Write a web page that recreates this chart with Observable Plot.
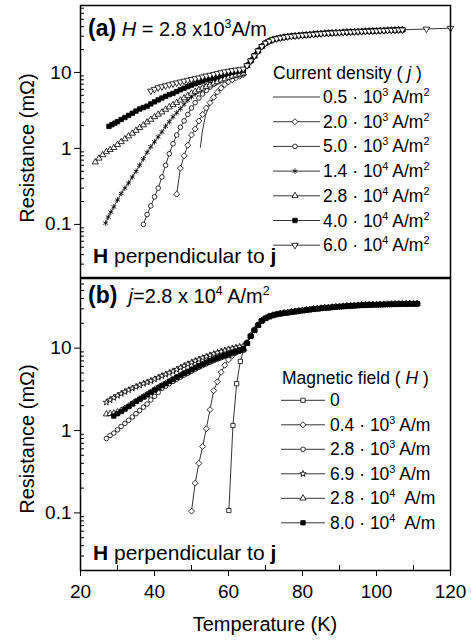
<!DOCTYPE html>
<html>
<head>
<meta charset="utf-8">
<script src="https://cdn.jsdelivr.net/npm/d3@7"></script>
<script src="https://cdn.jsdelivr.net/npm/@observablehq/plot@0.6"></script>
<style>
  body { margin: 0; background: #fff; }
  #chart { width: 471px; height: 641px; background: #fff; }
  #chart svg { display: block; }
</style>
</head>
<body>
<div id="chart"></div>
<script>
// ---------------- DATA ----------------
// Axis ticks
const xTicks = [20, 40, 60, 80, 100, 120];
const xMinorTicks = [30, 50, 70, 90, 110];
const yTicks = [0.1, 1, 10];
const yMinorTicks = [0.02,0.03,0.04,0.05,0.06,0.07,0.08,0.09,0.2,0.3,0.4,0.5,0.6,0.7,0.8,0.9,2,3,4,5,6,7,8,9,20,30,40,50,60,70];

// Panel (a): H = 2.8x10^3 A/m, different current densities
const legendA = ["0.5", "2.0", "5.0", "1.4", "2.8", "4.0", "6.0"];
const legendAExp = ["3", "3", "3", "4", "4", "4", "4"];

const tA1 = [52.4,52.9,53.4,53.8,54.4,55.1,56,56.9,58,59,60,61,62,63,64];
const rA1 = [1.03,1.64,2.2,2.72,3.3,3.87,4.6,5.25,6.1,6.8,7.5,8.1,8.7,9.2,9.7];

const tA2 = [46,47,48,49,50,51,52,53,54,55,56,57,58,59,60,61,62,63,64];
const rA2 = [0.25,0.55,0.8,1.1,1.5,1.8,2.3,2.8,3.4,4.0,4.7,5.5,6.2,6.9,7.5,8.0,8.5,8.9,9.3];

const tA3 = [37,38,39,40,41,42,43,44,45,46,47,48,49,50,51,52,53,54,55,56,57,58,59,60,61,62,63,64];
const rA3 = [0.1,0.135,0.175,0.23,0.3,0.42,0.6,0.85,1.15,1.5,1.9,2.3,2.8,3.4,4.0,4.6,5.2,5.8,6.4,7.0,7.5,7.9,8.4,8.7,8.9,9.1,9.3,9.6];

const tA4 = [26.8,27.5,28.2,29,30,31,32,33,34,35,36,37,38,39,40,41,42,43,44,45,46,47,48,49,50,51,52,53,54,55,56,57,58,59,60,61,62,63,64];
const rA4 = [0.104,0.125,0.145,0.17,0.21,0.255,0.3,0.35,0.42,0.5,0.6,0.73,0.89,1.05,1.22,1.42,1.65,1.95,2.25,2.6,2.95,3.33,3.8,4.3,4.75,5.2,5.7,6.2,6.7,7.2,7.7,8.1,8.5,8.8,9.1,9.3,9.5,9.7,9.9];

const tA5 = [24,25,26,27,28,29,30,31,32,33,34,35,36,37,38,39,40,41,42,43,44,45,46,47,48,49,50,51,52,53,54,55,56,57,58,59,60,61,62,63,64];
const rA5 = [0.66,0.74,0.82,0.9,0.96,1.02,1.12,1.22,1.33,1.45,1.58,1.72,1.87,2.03,2.22,2.4,2.6,2.8,3.0,3.25,3.5,3.75,4.0,4.3,4.6,4.95,5.3,5.6,5.9,6.2,6.5,6.8,7.2,7.5,7.9,8.2,8.6,8.9,9.2,9.5,9.8];

const tA6 = [27.7,28.5,29.3,30,31,32,33,34,35,36,37,38,39,40,41,42,43,44,45,46,47,48,49,50,51,52,53,54,55,56,57,58,59,60,61,62,63,64];
const rA6 = [1.95,2.05,2.15,2.25,2.4,2.55,2.72,2.9,3.1,3.3,3.45,3.6,3.85,4.1,4.35,4.6,4.85,5.1,5.3,5.6,5.9,6.2,6.5,6.8,7.1,7.4,7.7,8.0,8.3,8.6,8.9,9.2,9.5,9.8,10.0,10.2,10.4,10.6];

const tA7 = [39,40,41,42,43,44,45,46,47,48,49,50,51,52,53,54,55,56,57,58,59,60,61,62,63,64];
const rA7 = [5.7,6.0,6.3,6.5,6.7,6.9,7.1,7.3,7.5,7.7,7.9,8.1,8.3,8.5,8.75,9.0,9.2,9.45,9.7,9.95,10.2,10.4,10.6,10.75,10.9,11.1];
const tA7tail = [113.5, 120];
const rA7tail = [37.3, 38.2];

// common normal-state branch, panel (a)
const tHighA = [65,66,67,68,69,70,71,72,73,74,75,76,77,78,79,80,81,82,83,84,85,86,87,88,89,90,91,92,93,94,95,96,97,98,99,100,101,102,103,104,105,106,107];
const rHighA = [12.3,14.2,16.5,19.2,22,24.3,25.8,27,27.8,28.5,29.1,29.6,30,30.3,30.6,30.9,31.2,31.5,31.8,32.1,32.4,32.7,32.9,33.1,33.3,33.5,33.7,33.9,34.1,34.3,34.4,34.6,34.8,35,35.1,35.3,35.5,35.6,35.8,36,36.1,36.3,36.4];

// Panel (b): j = 2.8x10^4 A/m^2, different magnetic fields
const legendB = ["0", "0.4", "2.8", "6.9", "2.8", "8.0"];
const legendBExp = ["", "3", "3", "3", "4", "4"];

const tB1 = [60.1,61.2,62.2,63.2,64.1];
const rB1 = [0.107,1.15,3.7,6.9,9.5];

const tB2 = [50,51,52,53,54,55,56,57,58,59,60,61,62,63,64];
const rB2 = [0.105,0.23,0.40,0.64,1.05,1.79,3.05,3.9,5.1,6.2,7.2,8.1,8.8,9.3,9.7];

const tB345 = [27,28,29,30,31,32,33,34,35,36,37,38,39,40,41,42,43,44,45,46,47,48,49,50,51,52,53,54,55,56,57,58,59,60,61,62,63,64];
const rB3 = [0.8,0.87,0.93,1.02,1.12,1.22,1.33,1.46,1.6,1.75,1.92,2.1,2.35,2.6,2.9,3.25,3.45,3.7,3.95,4.2,4.45,4.7,4.95,5.25,5.55,5.85,6.15,6.45,6.75,7.05,7.35,7.65,7.95,8.25,8.55,8.85,9.15,9.5];
const rB4 = [2.2,2.35,2.5,2.65,2.8,2.95,3.1,3.25,3.4,3.55,3.7,3.85,4.0,4.2,4.4,4.6,4.8,5.0,5.25,5.5,5.8,6.1,6.4,6.7,7.0,7.3,7.6,7.9,8.2,8.5,8.8,9.1,9.4,9.7,9.95,10.2,10.4,10.6];
const rB5 = [1.58,1.6,1.62,1.68,1.75,1.85,1.97,2.1,2.25,2.4,2.55,2.72,2.9,3.1,3.3,3.5,3.7,3.9,4.1,4.35,4.6,4.85,5.1,5.4,5.7,6.0,6.3,6.6,6.9,7.2,7.5,7.8,8.1,8.4,8.7,9.0,9.3,9.7];

const tB6 = [29,30,31,32,33,34,35,36,37,38,39,40,41,42,43,44,45,46,47,48,49,50,51,52,53,54,55,56,57,58,59,60,61,62,63,64];
const rB6 = [1.5,1.6,1.7,1.82,1.95,2.1,2.25,2.4,2.55,2.7,2.9,3.1,3.3,3.5,3.7,3.95,4.2,4.45,4.7,4.95,5.2,5.5,5.8,6.1,6.4,6.7,7.0,7.3,7.6,7.9,8.2,8.5,8.8,9.1,9.4,9.8];

// common normal-state branch, panel (b)
const tHighB = [65,66,67,68,69,70,71,72,73,74,75,76,77,78,79,80,81,82,83,84,85,86,87,88,89,90,91,92,93,94,95,96,97,98,99,100,101,102,103,104,105,106,107,108,109,110,111];
const rHighB = [11.5,14,16.5,19,21.5,23,24.2,25,25.7,26.2,26.6,27,27.4,27.8,28.2,28.6,29,29.4,29.8,30.1,30.4,30.7,31,31.3,31.6,31.9,32.1,32.4,32.6,32.8,33,33.2,33.3,33.5,33.6,33.7,33.8,33.9,34,34.1,34.2,34.3,34.4,34.4,34.5,34.5,34.6];

// ---------------- RENDER ----------------
const FONT = "'Liberation Sans', Arial, Helvetica, sans-serif";
const downTriangle = {
  draw(ctx, size) {
    const y = -Math.sqrt(size / (Math.sqrt(3) * 3));
    ctx.moveTo(0, -2 * y);
    ctx.lineTo(-Math.sqrt(3) * y, y);
    ctx.lineTo(Math.sqrt(3) * y, y);
    ctx.closePath();
  }
};

const rows = (T, R) => T.map((t, i) => ({T: t, R: R[i]}));
const highA = rows(tHighA, rHighA);
const highB = rows(tHighB, rHighB);

const seriesA = [
  {data: rows(tA1, rA1).concat(highA), sym: null},
  {data: rows(tA2, rA2).concat(highA), sym: d3.symbolDiamond2, r: 2.7, fill: "white"},
  {data: rows(tA3, rA3).concat(highA), sym: d3.symbolCircle, r: 2.3, fill: "white"},
  {data: rows(tA4, rA4).concat(highA), sym: d3.symbolAsterisk, r: 2.6, fill: "none"},
  {data: rows(tA5, rA5).concat(highA), sym: d3.symbolTriangle, r: 2.3, fill: "white"},
  {data: rows(tA6, rA6).concat(highA), sym: d3.symbolSquare, r: 2.5, fill: "black"},
  {data: rows(tA7, rA7).concat(highA, rows(tA7tail, rA7tail)), sym: downTriangle, r: 2.4, fill: "white"}
];
const seriesB = [
  {data: rows(tB1, rB1).concat(highB), sym: d3.symbolSquare, r: 2.4, fill: "white"},
  {data: rows(tB2, rB2).concat(highB), sym: d3.symbolDiamond2, r: 2.7, fill: "white"},
  {data: rows(tB345, rB3).concat(highB), sym: d3.symbolCircle, r: 2.3, fill: "white"},
  {data: rows(tB345, rB4).concat(highB), sym: d3.symbolStar, r: 2.0, fill: "white"},
  {data: rows(tB345, rB5).concat(highB), sym: d3.symbolTriangle, r: 2.3, fill: "white"},
  {data: rows(tB6, rB6).concat(highB), sym: d3.symbolSquare, r: 2.5, fill: "black"}
];

function dataMarks(series) {
  const m = [];
  series.forEach(s => m.push(Plot.line(s.data, {x: "T", y: "R", stroke: "black", strokeWidth: 0.8})));
  series.forEach(s => {
    if (s.sym) m.push(Plot.dot(s.data, {x: "T", y: "R", symbol: s.sym, r: s.r, fill: s.fill, stroke: "black", strokeWidth: 0.8}));
  });
  return m;
}

const style = {fontFamily: FONT, fontSize: "19px", color: "black", background: "white", overflow: "visible"};

const svgA = Plot.plot({
  width: 471, height: 278,
  marginLeft: 80, marginRight: 21, marginTop: 5, marginBottom: 1,
  style,
  x: {type: "linear", domain: [20, 120], axis: null},
  y: {type: "log", domain: [0.02, 76]},
  marks: [
    Plot.axisY({ticks: yTicks, tickFormat: d => String(d), tickSize: 6, tickPadding: 3, label: null}),
    Plot.tickY(yMinorTicks, {stroke: "black", insetRight: 366}),
    ...dataMarks(seriesA),
    Plot.frame({stroke: "black", strokeWidth: 1.5})
  ]
});

const svgB = Plot.plot({
  width: 471, height: 364,
  marginLeft: 80, marginRight: 21, marginTop: 0, marginBottom: 72,
  style,
  x: {type: "linear", domain: [20, 120]},
  y: {type: "log", domain: [0.02, 70]},
  marks: [
    Plot.axisY({ticks: yTicks, tickFormat: d => String(d), tickSize: 6, tickPadding: 3, label: null}),
    Plot.tickY(yMinorTicks.filter(v => v < 70), {stroke: "black", insetRight: 366}),
    Plot.axisX({ticks: xTicks, tickSize: 6, tickPadding: 8, label: null}),
    Plot.tickX(xMinorTicks, {stroke: "black", insetTop: 287}),
    ...dataMarks(seriesB),
    Plot.frame({stroke: "black", strokeWidth: 1.5})
  ]
});

const chart = document.getElementById("chart");
chart.appendChild(svgA);
chart.appendChild(svgB);

// ------------- annotations -------------
function addText(svg, x, y, size, parts, opts = {}) {
  const t = d3.select(svg).append("text")
    .attr("x", x).attr("y", y)
    .attr("font-family", FONT).attr("font-size", size)
    .attr("text-anchor", opts.anchor || "start")
    .attr("fill", "black").style("white-space", "pre");
  if (opts.rotate) t.attr("transform", `rotate(-90 ${x} ${y})`);
  let raised = 0;
  parts.forEach(p => {
    if (typeof p === "string") p = {t: p};
    const s = t.append("tspan").text(p.t);
    if (p.sup) { const d = size * 0.4; s.attr("font-size", size * 0.62).attr("dy", -d); raised = d; }
    else if (raised) { s.attr("dy", raised); raised = 0; }
    if (p.b) s.attr("font-weight", "bold");
    if (p.i) s.attr("font-style", "italic");
    if (p.size) s.attr("font-size", p.size);
  });
}
function legendSymbol(svg, x1, x2, xm, y, s) {
  const g = d3.select(svg);
  g.append("line").attr("x1", x1).attr("x2", x2).attr("y1", y).attr("y2", y)
    .attr("stroke", "black").attr("stroke-width", 0.8);
  if (s.sym) g.append("path")
    .attr("d", d3.symbol(s.sym, Math.PI * s.r * s.r)())
    .attr("transform", `translate(${xm},${y})`)
    .attr("fill", s.fill).attr("stroke", "black").attr("stroke-width", 0.8);
}

// Panel (a) texts
addText(svgA, 88, 36, 20, [{t: "(a)", b: true, size: 23}, " ", {t: "H", i: true}, " = 2.8 x10", {t: "3", sup: true}, "A/m"]);
addText(svgA, 93, 263, 21, [{t: "H", b: true}, " perpendicular to ", {t: "j", b: true}]);
addText(svgA, 34, 148, 20, ["Resistance (m\u03A9)"], {anchor: "middle", rotate: true});
addText(svgA, 273, 79, 17.5, ["Current density ( ", {t: "j", i: true}, " )"]);
seriesA.forEach((s, i) => {
  const cy = 97 + 24.7 * i;
  legendSymbol(svgA, 273, 320, 295, cy, s);
  addText(svgA, 323, cy + 6, 17.5, [legendA[i] + " \u00B7 10", {t: legendAExp[i], sup: true}, " A/m", {t: "2", sup: true}]);
});

// Panel (b) texts (svg offset 277)
const oB = 277;
addText(svgB, 88, 302 - oB, 20, [{t: "(b)", b: true, size: 23}, "  ", {t: "j", i: true}, "=2.8 x 10", {t: "4", sup: true}, " A/m", {t: "2", sup: true}]);
addText(svgB, 93, 559 - oB, 21, [{t: "H", b: true}, " perpendicular to ", {t: "j", b: true}]);
addText(svgB, 34, 438 - oB, 20, ["Resistance (m\u03A9)"], {anchor: "middle", rotate: true});
addText(svgB, 265, 630 - oB, 20, ["Temperature (K)"], {anchor: "middle"});
addText(svgB, 282, 383 - oB, 17.5, ["Magnetic field ( ", {t: "H", i: true}, " )"]);
seriesB.forEach((s, i) => {
  const cy = 399.3 + 24.5 * i - oB;
  legendSymbol(svgB, 281, 325, 303, cy, s);
  const parts = i === 0 ? ["0"] : [legendB[i] + " \u00B7 10", {t: legendBExp[i], sup: true}, (i >= 4 ? "  A/m" : " A/m")];
  addText(svgB, 330, cy + 6, 17.5, parts);
});
</script>
</body>
</html>
